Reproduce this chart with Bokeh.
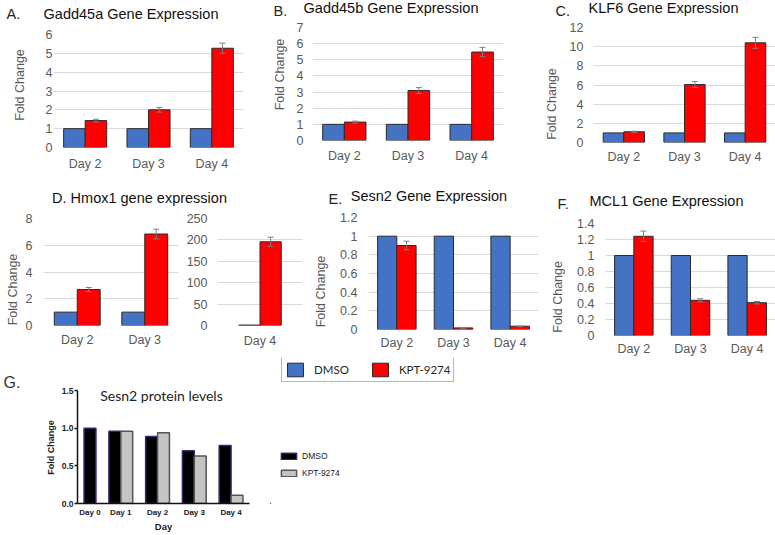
import math
from bokeh.plotting import figure
from bokeh.models import (ColumnDataSource, FactorRange, Range1d, Whisker, TeeHead, Label,
                          Legend, LegendItem, FixedTicker, NumeralTickFormatter)
from bokeh.transform import dodge
from bokeh.layouts import row, column
from bokeh.core.properties import value
from bokeh.embed import file_html
from bokeh.resources import INLINE

# ---------------- data ----------------
days = ["Day 2", "Day 3", "Day 4"]
dmso_ctrl = [1, 1, 1]
gadd45a_kpt = [1.43, 2.00, 5.27]
gadd45a_err = [0.07, 0.12, 0.27]
gadd45b_kpt = [1.14, 3.10, 5.48]
gadd45b_err = [0.06, 0.18, 0.29]
klf6_kpt = [1.12, 6.05, 10.40]
klf6_err = [0.06, 0.31, 0.57]
hmox1_days = ["Day 2", "Day 3"]
hmox1_dmso = [1, 1]
hmox1_kpt = [2.69, 6.84]
hmox1_err = [0.15, 0.36]
hmox1_d4_days = ["Day 4"]
hmox1_d4_dmso = [1]
hmox1_d4_kpt = [195.6]
hmox1_d4_err = [10.7]
sesn2_kpt = [0.90, 0.017, 0.035]
sesn2_err = [0.046, 0.003, 0.004]
mcl1_kpt = [1.24, 0.44, 0.41]
mcl1_err = [0.065, 0.02, 0.015]
protein_days = ["Day 0", "Day 1", "Day 2", "Day 3", "Day 4"]
protein_dmso = [1.00, 0.96, 0.89, 0.70, 0.77]
protein_kpt = [None, 0.96, 0.94, 0.63, 0.11]
series = ["DMSO", "KPT-9274"]

FONT = "Liberation Sans"
BLUE = "#4472C4"
RED = "#FF0000"
EDGE = "#2B2B2B"
GREY_TXT = "#595959"
DARK_TXT = "#262626"
TITLE_TXT = "#111111"
TS = "14.5px"


def holder(w, h, fb=0, ft=0):
    """Blank canvas whose data units are pixels from its bottom-left corner.
    fb/ft match the frame borders of the plot beside it (row frames are aligned)."""
    p = figure(width=w, height=h, x_range=Range1d(0, w), y_range=Range1d(fb, h - ft),
               title=None, output_backend="svg", toolbar_location=None,
               min_border_left=0, min_border_right=0, min_border_top=ft, min_border_bottom=fb,
               x_axis_location=None, y_axis_location=None)
    p.grid.visible = False
    p.outline_line_color = None
    return p


def put(p, x, y, text, size, color, angle=0.0, align="left", font=FONT, style="normal"):
    p.text(x=[x], y=[y], text=[text], angle=angle, text_align=align, text_baseline="middle",
           text_font=value(font), text_font_size=value(size), text_color=color,
           text_font_style=style)


def ylab(w, h, fb, ft, x, y, text="Fold Change", size="12.5px", color=GREY_TXT, style="normal"):
    p = holder(w, h, fb, ft)
    put(p, x, y, text, size, color, angle=math.pi / 2, align="center", style=style)
    return p


def header(w, h, letter, lx, ly, title, tx, ty):
    p = holder(w, h)
    if letter:
        put(p, lx, ly, letter, TS, DARK_TXT)
    put(p, tx, ty, title, TS, TITLE_TXT, align="center")
    return p


def gene_panel(w, h, fl, ft, fw, fh, cats, dmso, kpt, err, ymax, ystep,
               bw=0.34, ystand=10, xstand=7):
    p = figure(width=w, height=h, x_range=FactorRange(*cats, range_padding=0),
               y_range=Range1d(0, ymax), output_backend="svg", toolbar_location=None,
               title=None,
               min_border_left=fl, min_border_top=ft, min_border_right=w - fl - fw,
               min_border_bottom=h - ft - fh)
    p.outline_line_color = None
    p.xgrid.visible = False
    p.ygrid.grid_line_color = "#D9D9D9"
    p.ygrid.grid_line_width = 1
    n = int(round(ymax / ystep))
    p.yaxis.ticker = FixedTicker(ticks=[round(i * ystep, 6) for i in range(n + 1)])
    p.yaxis.formatter = NumeralTickFormatter(format="0.[0]")
    for ax in (p.xaxis[0], p.yaxis[0]):
        ax.axis_line_color = None
        ax.major_tick_line_color = None
        ax.minor_tick_line_color = None
        ax.major_tick_in = 0
        ax.major_tick_out = 0
        ax.major_label_text_font = FONT
        ax.major_label_text_font_size = "12.5px"
        ax.major_label_text_color = GREY_TXT
    p.yaxis.major_label_standoff = ystand
    p.xaxis.major_label_standoff = xstand
    src = ColumnDataSource(dict(cat=cats, dmso=dmso, kpt=kpt,
                                up=[k + e for k, e in zip(kpt, err)],
                                lo=[k - e for k, e in zip(kpt, err)]))
    p.vbar(x=dodge("cat", -bw / 2, range=p.x_range), top="dmso", width=bw, source=src,
           fill_color=BLUE, line_color=EDGE, line_width=1)
    p.vbar(x=dodge("cat", bw / 2, range=p.x_range), top="kpt", width=bw, source=src,
           fill_color=RED, line_color=EDGE, line_width=1)
    wk = Whisker(base=dodge("cat", bw / 2, range=p.x_range), upper="up", lower="lo",
                 source=src, level="overlay", line_color="#7F7F7F", line_width=1,
                 upper_head=TeeHead(size=6, line_color="#7F7F7F", line_width=1),
                 lower_head=TeeHead(size=6, line_color="#7F7F7F", line_width=1))
    p.add_layout(wk)
    return p


# ---------------- row 1 ----------------
hA = header(245, 24, "A.", 6, 11, "Gadd45a Gene Expression", 130.5, 11)
yA = ylab(30, 154, 31, 10, 19, 93.5)
pA = gene_panel(215, 154, 23, 10, 190, 113, days, dmso_ctrl, gadd45a_kpt, gadd45a_err, 6, 1,
                ystand=1, xstand=9)
panelA = column(hA, row(yA, pA))

hB = header(295, 20, "B.", 28, 10, "Gadd45b Gene Expression", 145.5, 13)
yB = ylab(45, 158, 38, 7, 34, 104)
pB = gene_panel(250, 158, 22, 7, 191, 113, days, dmso_ctrl, gadd45b_kpt, gadd45b_err, 7, 1,
                ystand=9, xstand=8)
panelB = column(hB, row(yB, pB))

hC = header(235, 20, "C.", 15, 10, "KLF6 Gene Expression", 123, 13)
yC = ylab(20, 158, 36, 7, 11, 74.5)
pC = gene_panel(215, 158, 33, 7, 182, 115, days, dmso_ctrl, klf6_kpt, klf6_err, 12, 2,
                ystand=10, xstand=7)
panelC = column(hC, row(yC, pC))

# ---------------- row 2 ----------------
hD = header(312, 29, None, 0, 0, "D. Hmox1 gene expression", 139, 10)
yD = ylab(22, 151, 33, 11, 12, 69)
pD1 = gene_panel(158, 151, 21, 11, 135, 110, hmox1_days, hmox1_dmso, hmox1_kpt, hmox1_err, 8, 2,
                 ystand=11, xstand=7)
pD2 = gene_panel(132, 151, 37, 10, 85, 109, hmox1_d4_days, hmox1_d4_dmso, hmox1_d4_kpt,
                 hmox1_d4_err, 250, 50, bw=0.25, ystand=10, xstand=8)
panelD = column(hD, row(yD, pD1, pD2))

hE = header(228, 29, "E.", 16, 9, "Sesn2 Gene Expression", 116.5, 12)
yE = ylab(18, 151, 29, 10, 8, 67)
pE = gene_panel(210, 151, 38, 10, 170, 112, days, dmso_ctrl, sesn2_kpt, sesn2_err, 1.2, 0.2,
                ystand=11, xstand=6)
panelE = column(hE, row(yE, pE))

hF = header(235, 34, "F.", 17, 9, "MCL1 Gene Expression", 126, 12)
yF = ylab(25, 146, 22, 11, 17, 61)
pF = gene_panel(210, 146, 40, 11, 170, 113, days, dmso_ctrl, mcl1_kpt, mcl1_err, 1.4, 0.2,
                ystand=11, xstand=6)
panelF = column(hF, row(yF, pF))

# ---------------- row 3 : G ----------------
GROUP_GAP = 1.09   # gap between day groups, in bar widths
PAD = 0.55
g_x_dmso, g_x_kpt, g_kpt_vals, g_centers = [], [], [], []
pos = 0.0
for i, (d, a, b) in enumerate(zip(protein_days, protein_dmso, protein_kpt)):
    if i > 0:
        pos += GROUP_GAP
    nbar = 1 if b is None else 2
    g_centers.append(pos + nbar / 2)
    g_x_dmso.append(pos + 0.5)
    if b is not None:
        g_x_kpt.append(pos + 1.5)
        g_kpt_vals.append(b)
    pos += nbar

G_H = 177         # canvas height of row 3
G_BOTTOM = 32     # border below the x axis
G_AX_H = 113      # height of the drawn 0..1.5 axis
G_FRAME_H = G_H - G_BOTTOM   # frame reaches the top so title and legends fit inside
G_YMAX = 1.5

gL = holder(57, G_H, G_BOTTOM, 0)
put(gL, 3, 153, "G.", "16px", "#333333")
put(gL, 50, 88, "Fold Change", "9px", "#222222", angle=math.pi / 2, align="center", style="bold")

pG = figure(width=213, height=G_H, x_range=Range1d(-PAD, pos + PAD),
            y_range=Range1d(0, G_YMAX * G_FRAME_H / G_AX_H), title=None,
            output_backend="svg", toolbar_location=None,
            min_border_left=20, min_border_top=G_H - G_BOTTOM - G_FRAME_H, min_border_right=21,
            min_border_bottom=G_BOTTOM)
pG.outline_line_color = None
pG.grid.visible = False
src_gd = ColumnDataSource(dict(x=g_x_dmso, v=protein_dmso))
src_gk = ColumnDataSource(dict(x=g_x_kpt, v=g_kpt_vals))
rgd = pG.vbar(x="x", top="v", width=1.0, source=src_gd, fill_color="#000000",
              line_color="#3B2470", line_width=1.5)
rgk = pG.vbar(x="x", top="v", width=1.0, source=src_gk, fill_color="#C4C4C4",
              line_color="#555555", line_width=1.5)
pG.yaxis.ticker = FixedTicker(ticks=[0, 0.5, 1.0, 1.5])
pG.yaxis.formatter = NumeralTickFormatter(format="0.0")
pG.yaxis.bounds = (0, G_YMAX)
pG.xaxis.ticker = FixedTicker(ticks=g_centers)
pG.xaxis.major_label_overrides = {c: d for c, d in zip(g_centers, protein_days)}
for ax in (pG.xaxis[0], pG.yaxis[0]):
    ax.axis_line_color = "#111111"
    ax.axis_line_width = 1.5
    ax.minor_tick_line_color = None
    ax.major_label_text_font = FONT
    ax.major_label_text_font_style = "bold"
    ax.major_label_text_color = "#222222"
pG.yaxis.major_tick_line_color = "#111111"
pG.yaxis.major_tick_line_width = 1.5
pG.yaxis.major_tick_out = 3
pG.yaxis.major_tick_in = 0
pG.yaxis.major_label_text_font_size = "8.5px"
pG.yaxis.major_label_standoff = 1
pG.xaxis.major_tick_line_color = None
pG.xaxis.major_tick_out = 0
pG.xaxis.major_tick_in = 0
pG.xaxis.major_label_text_font_size = "8px"
pG.xaxis.major_label_standoff = 4
pG.xaxis.axis_label = "Day"
pG.xaxis.axis_label_text_font = FONT
pG.xaxis.axis_label_text_font_size = "9.5px"
pG.xaxis.axis_label_text_font_style = "bold"
pG.xaxis.axis_label_text_color = "#222222"
pG.xaxis.axis_label_standoff = 1
pG.add_layout(Label(x=84, y=108, x_units="screen", y_units="screen",
                    text="Sesn2 protein levels", text_font="Lato", text_font_size="14px",
                    text_color="#222222", text_align="center", text_baseline="middle"))

# legends holder (legend swatches use one-point renderers placed far outside the canvas)
gR = holder(190, G_H, G_BOTTOM, 0)
sw = ColumnDataSource(dict(x=[-5000], v=[-5000], b=[-5001]))
lb = gR.vbar(x="x", top="v", bottom="b", width=1, source=sw, fill_color=BLUE,
             line_color=EDGE, line_width=1)
lr = gR.vbar(x="x", top="v", bottom="b", width=1, source=sw, fill_color=RED,
             line_color=EDGE, line_width=1)
ld = gR.vbar(x="x", top="v", bottom="b", width=1, source=sw, fill_color="#000000",
             line_color="#3B2470", line_width=1.5)
lk = gR.vbar(x="x", top="v", bottom="b", width=1, source=sw, fill_color="#C4C4C4",
             line_color="#555555", line_width=1.5)
leg_m = Legend(items=[LegendItem(label=series[0], renderers=[lb]),
                      LegendItem(label=series[1], renderers=[lr])],
               location=(11, 121), orientation="horizontal", glyph_width=20, glyph_height=17,
               label_height=17, label_standoff=9, spacing=21, padding=3, margin=0,
               border_line_color="#4472C4", border_line_width=1.5, background_fill_color="white",
               label_text_font="Lato", label_text_font_size="11.5px", label_text_color=DARK_TXT)
gR.add_layout(leg_m)
leg_g = Legend(items=[LegendItem(label=series[0], renderers=[ld]),
                      LegendItem(label=series[1], renderers=[lk])],
               location=(9, 25), orientation="vertical", glyph_width=19, glyph_height=8,
               label_height=10, label_standoff=4, spacing=7, padding=0, margin=0,
               border_line_color=None, background_fill_alpha=0,
               label_text_font=FONT, label_text_font_size="8.5px", label_text_color="#222222")
gR.add_layout(leg_g)

layout = column(row(panelA, panelB, panelC),
                row(panelD, panelE, panelF),
                row(gL, pG, gR))

open("out.html", "w").write(file_html(layout, INLINE))
